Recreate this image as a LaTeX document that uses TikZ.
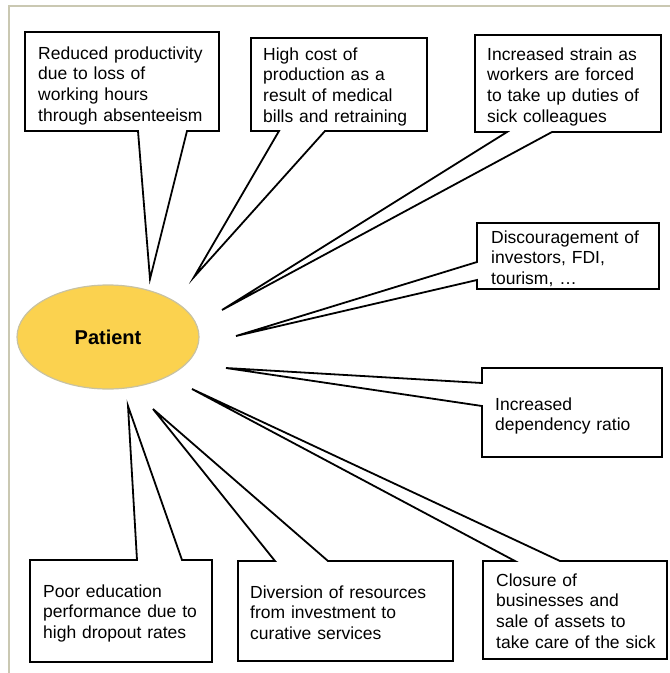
\documentclass[tikz,border=0pt]{standalone}
\usepackage{fontspec}
\setmainfont{Liberation Sans}
\usetikzlibrary{shapes.geometric}
\definecolor{framecol}{HTML}{CAC8B2}
\definecolor{patfill}{HTML}{FBD24F}
\definecolor{patedge}{HTML}{C8C2A2}
\tikzset{
  callout/.style={draw=black, fill=white, line width=1.8pt, line join=miter},
  ctext/.style={anchor=base west, inner sep=0pt, align=left, text width=#1,
    font=\fontsize{17.5}{20.8}\selectfont},
  ctext/.default=180pt,
  patient/.style={ellipse, fill=patfill, draw=patedge, line width=1.2pt,
    minimum width=182pt, minimum height=104pt, inner sep=0pt,
    font=\fontsize{20}{24}\selectfont\bfseries}
}
\begin{document}
\begin{tikzpicture}[x=1pt,y=-1pt]
\useasboundingbox (0,0) rectangle (670,673);
% frame
\draw[framecol, line width=2pt] (9,673) -- (9,6) -- (670,6);

% patient ellipse
\node[patient] (pat) at (108,337) {Patient};

% tips
\coordinate (tip1) at (150,279);
\coordinate (tip2) at (194,277);
\coordinate (tip3) at (222,310);
\coordinate (tip4) at (236,336);
\coordinate (tip5) at (226,368);
\coordinate (tip6) at (192,389);
\coordinate (tip7) at (153,409);
\coordinate (tip8) at (128,406);

% callout 1
\draw[callout] (25,32) -- (219,32) -- (219,131) -- (187,131) -- (tip1) -- (138,131) -- (25,131) -- cycle;
\node[ctext] (t1) at (38,59) {Reduced productivity\\due to loss of\\working hours\\through absenteeism};

% callout 2
\draw[callout] (251,38) -- (427,38) -- (427,131) -- (325,131) -- (tip2) -- (279,131) -- (251,131) -- cycle;
\node[ctext] (t2) at (263,60) {High cost of\\production as a\\result of medical\\bills and retraining};

% callout 3
\draw[callout] (475,35) -- (661,35) -- (661,132) -- (552,132) -- (tip3) -- (507,132) -- (475,132) -- cycle;
\node[ctext] (t3) at (487,60) {Increased strain as\\workers are forced\\to take up duties of\\sick colleagues};

% callout 4
\draw[callout] (477,223) -- (659,223) -- (659,289) -- (477,289) -- (477,280) -- (tip4) -- (477,262) -- cycle;
\node[ctext] (t4) at (491,243) {Discouragement of\\investors, FDI,\\tourism, \dots};

% callout 5
\draw[callout] (482,368) -- (662,368) -- (662,457) -- (482,457) -- (482,406) -- (tip5) -- (482,383) -- cycle;
\node[ctext] (t5) at (495,410) {Increased\\dependency ratio};

% callout 6
\draw[callout] (483,561) -- (515,561) -- (tip6) -- (560,561) -- (667,561) -- (667,659) -- (483,659) -- cycle;
\node[ctext] (t6) at (496,586) {Closure of\\businesses and\\sale of assets to\\take care of the sick};

% callout 7
\draw[callout] (238,561) -- (275,561) -- (tip7) -- (328,561) -- (453,561) -- (453,661) -- (238,661) -- cycle;
\node[ctext=200pt] (t7) at (250,598) {Diversion of resources\\from investment to\\curative services};

% callout 8
\draw[callout] (30,560) -- (137,560) -- (tip8) -- (182,560) -- (212,560) -- (212,662) -- (30,662) -- cycle;
\node[ctext] (t8) at (43,597) {Poor education\\performance due to\\high dropout rates};
\end{tikzpicture}
\end{document}
